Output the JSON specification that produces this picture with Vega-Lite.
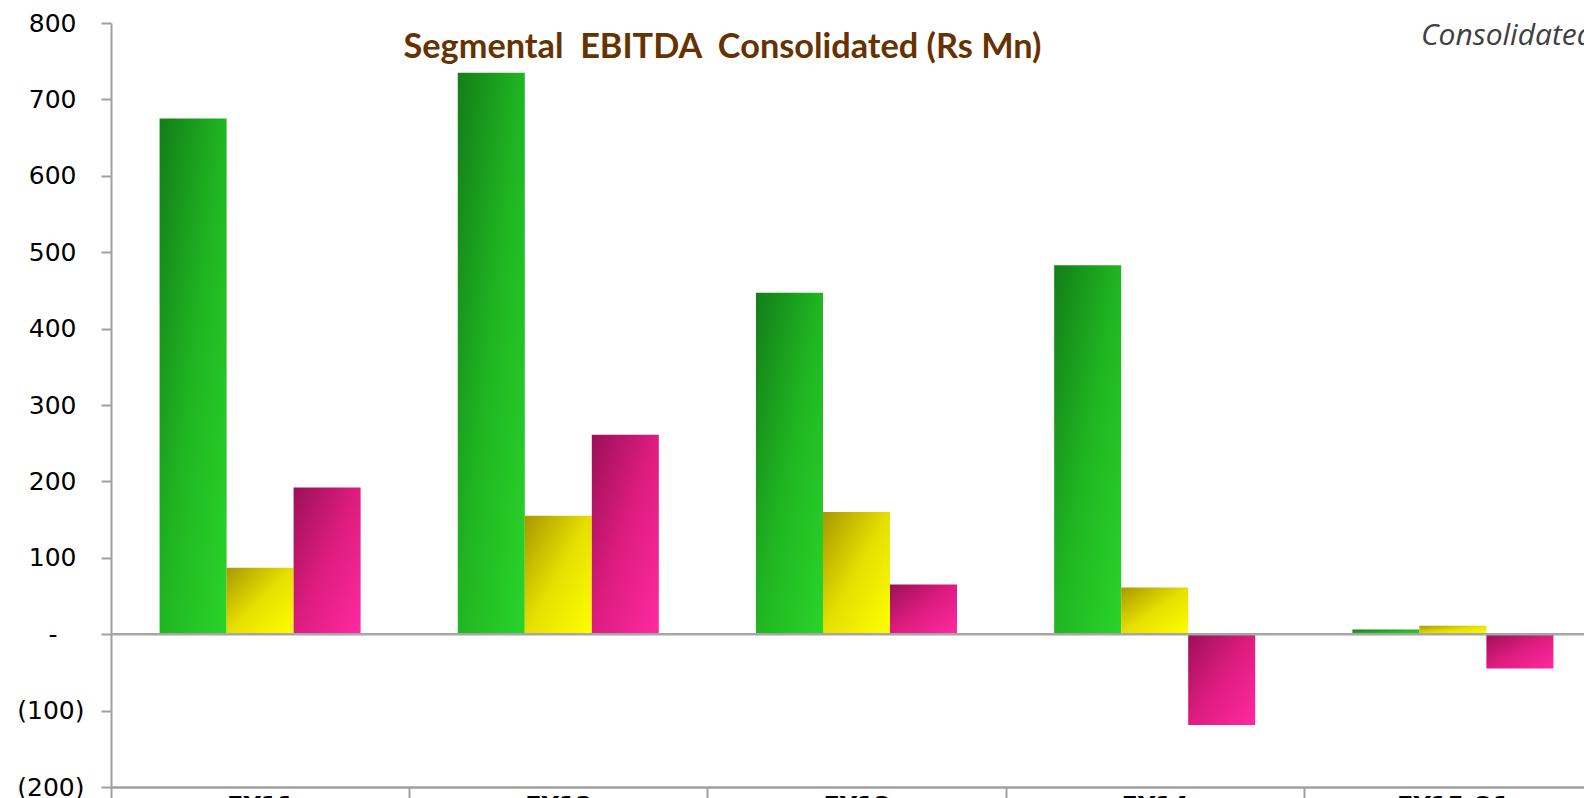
{
  "$schema": "https://vega.github.io/schema/vega-lite/v6.json",
  "width": 1473,
  "height": 764,
  "autosize": "none",
  "padding": {"left": 111, "top": 23, "right": 0, "bottom": 11},
  "background": "#ffffff",
  "config": {"view": {"stroke": null}},
  "title": {
    "text": "Segmental\u00a0\u00a0EBITDA\u00a0\u00a0Consolidated (Rs Mn)",
    "anchor": "middle",
    "frame": "group",
    "dx": -125,
    "dy": 81,
    "offset": 0,
    "baseline": "alphabetic",
    "font": "Lato",
    "fontSize": 34.3,
    "fontWeight": "bold",
    "color": "#663300"
  },
  "data": {
    "values": [
      {"year": "FY11", "segment": "Segment A", "ebitda": 675},
      {"year": "FY11", "segment": "Segment B", "ebitda": 87},
      {"year": "FY11", "segment": "Segment C", "ebitda": 192},
      {"year": "FY12", "segment": "Segment A", "ebitda": 735},
      {"year": "FY12", "segment": "Segment B", "ebitda": 155},
      {"year": "FY12", "segment": "Segment C", "ebitda": 261},
      {"year": "FY13", "segment": "Segment A", "ebitda": 447},
      {"year": "FY13", "segment": "Segment B", "ebitda": 160},
      {"year": "FY13", "segment": "Segment C", "ebitda": 65},
      {"year": "FY14", "segment": "Segment A", "ebitda": 483},
      {"year": "FY14", "segment": "Segment B", "ebitda": 61},
      {"year": "FY14", "segment": "Segment C", "ebitda": -119},
      {"year": "FY15 Q1", "segment": "Segment A", "ebitda": 6},
      {"year": "FY15 Q1", "segment": "Segment B", "ebitda": 11},
      {"year": "FY15 Q1", "segment": "Segment C", "ebitda": -45}
    ]
  },
  "layer": [
    {
      "mark": {"type": "bar"},
      "encoding": {
        "x": {
          "field": "year",
          "type": "nominal",
          "sort": ["FY11", "FY12", "FY13", "FY14", "FY15 Q1"],
          "title": null,
          "scale": {"range": [0, 1491], "paddingInner": 0, "paddingOuter": 0},
          "axis": {
            "tickBand": "extent",
            "labelAngle": 0,
            "labelFont": "DejaVu Sans",
            "labelFontWeight": "bold",
            "labelFontSize": 24,
            "labelColor": "#000000",
            "labelBaseline": "top",
            "labelPadding": -4.5,
            "tickSize": 12,
            "tickColor": "#a0a0a0",
            "tickWidth": 2,
            "domainColor": "#a0a0a0",
            "domainWidth": 2.5,
            "grid": false
          }
        },
        "xOffset": {
          "field": "segment",
          "type": "nominal",
          "sort": ["Segment A", "Segment B", "Segment C"],
          "scale": {"paddingInner": 0, "paddingOuter": 0.725}
        },
        "y": {
          "field": "ebitda",
          "type": "quantitative",
          "title": null,
          "scale": {"domain": [-200, 800], "nice": false, "zero": false},
          "axis": {
            "values": [-200, -100, 0, 100, 200, 300, 400, 500, 600, 700, 800],
            "labelExpr": "datum.value == 0 ? '-' : datum.value < 0 ? '(' + format(-datum.value, ',') + ')' : format(datum.value, ',')",
            "labelFont": "DejaVu Sans",
            "labelFontSize": 25,
            "labelColor": "#000000",
            "labelPadding": {
              "condition": [
                {"test": "datum.value > 0", "value": 25},
                {"test": "datum.value == 0", "value": 44}
              ],
              "value": 17
            },
            "tickSize": 10,
            "tickColor": "#a0a0a0",
            "tickWidth": 2,
            "domainColor": "#a0a0a0",
            "domainWidth": 2,
            "grid": false
          }
        },
        "fill": {
          "condition": [
            {
              "test": "datum.segment === 'Segment A'",
              "value": {
                "gradient": "linear", "x1": 0, "y1": 0, "x2": 1, "y2": 1,
                "stops": [
                  {"offset": 0, "color": "#137e18"},
                  {"offset": 0.5, "color": "#20b622"},
                  {"offset": 1, "color": "#2ad42a"}
                ]
              }
            },
            {
              "test": "datum.segment === 'Segment B'",
              "value": {
                "gradient": "linear", "x1": 0, "y1": 0, "x2": 1, "y2": 1,
                "stops": [
                  {"offset": 0, "color": "#a89800"},
                  {"offset": 0.5, "color": "#e6e000"},
                  {"offset": 1, "color": "#ffff00"}
                ]
              }
            }
          ],
          "value": {
            "gradient": "linear", "x1": 0, "y1": 0, "x2": 1, "y2": 1,
            "stops": [
              {"offset": 0, "color": "#9c1058"},
              {"offset": 0.5, "color": "#de1c80"},
              {"offset": 1, "color": "#ff2aa0"}
            ]
          }
        }
      }
    },
    {
      "data": {"values": [{}]},
      "mark": {"type": "rule", "color": "#a6a6a6", "strokeWidth": 2.5},
      "encoding": {"y": {"datum": 0}}
    },
    {
      "data": {"values": [{}]},
      "mark": {
        "type": "text",
        "text": "Consolidated",
        "font": "Open Sans",
        "fontStyle": "italic",
        "fontSize": 30,
        "color": "#404040",
        "align": "left",
        "baseline": "alphabetic",
        "dx": -32,
        "dy": 22
      },
      "encoding": {
        "x": {"datum": "FY15 Q1", "type": "nominal"},
        "y": {"datum": 800}
      }
    }
  ]
}
